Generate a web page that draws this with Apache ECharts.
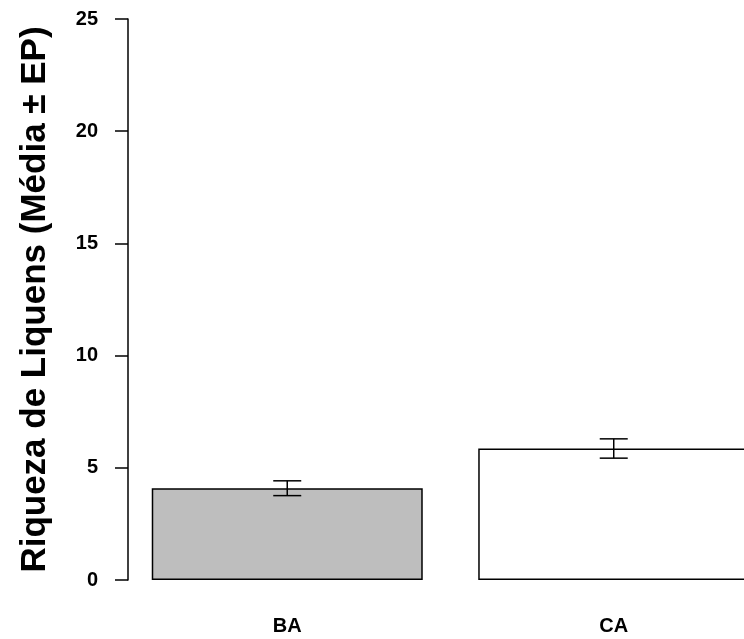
<!DOCTYPE html>
<html>
<head>
<meta charset="utf-8">
<script src="https://cdn.jsdelivr.net/npm/echarts@6/dist/echarts.min.js"></script>
<style>html,body{margin:0;padding:0;background:#fff;}#c{width:744px;height:639px;}</style>
</head>
<body>
<div id="c"></div>
<script>
const categories = ['BA', 'CA'];
const means = [4.09, 5.86];
const stdErrors = [0.33, 0.43];
const barColors = ['#bebebe', '#ffffff'];
const yTicks = [0, 5, 10, 15, 20, 25];
const yTitle = 'Riqueza de Liquens (Média ± EP)';

const font = '"Liberation Sans", Arial, sans-serif';
const chart = echarts.init(document.getElementById('c'), null, {renderer: 'canvas'});
const catPos = categories.map((c, i) => i);
const errData = categories.map((c, i) => [i, means[i], stdErrors[i]]);

chart.setOption({
  animation: false,
  backgroundColor: '#ffffff',
  grid: {left: 124, top: 19, right: 0, height: 561, containLabel: false},
  xAxis: {
    type: 'value',
    min: -0.5,
    max: 1.399,
    axisLine: {show: false, onZero: false},
    axisTick: {show: false},
    splitLine: {show: false},
    axisLabel: {
      customValues: catPos,
      formatter: function (v) { return categories[Math.round(v)] || ''; },
      color: '#000', fontFamily: font, fontWeight: 'bold', fontSize: 20, margin: 36
    }
  },
  yAxis: {
    type: 'value',
    min: yTicks[0],
    max: yTicks[yTicks.length - 1],
    interval: 5,
    offset: -4,
    name: yTitle,
    nameLocation: 'middle',
    nameRotate: 90,
    nameGap: 75,
    nameTextStyle: {color: '#000', fontFamily: font, fontWeight: 'bold', fontSize: 35},
    axisLine: {show: true, onZero: false, lineStyle: {color: '#000', width: 1.5}},
    axisTick: {show: true, inside: false, length: 13, lineStyle: {color: '#000', width: 1.5}},
    axisLabel: {color: '#000', fontFamily: font, fontWeight: 'bold', fontSize: 20, margin: 30},
    splitLine: {show: false}
  },
  series: [
    {
      type: 'bar',
      data: means.map((v, i) => ({value: [catPos[i], v], itemStyle: {color: barColors[i]}})),
      barWidth: 271,
      itemStyle: {borderColor: '#000', borderWidth: 1.5},
      z: 2
    },
    {
      type: 'custom',
      data: errData,
      z: 5,
      renderItem: function (params, api) {
        const x = api.value(0);
        const m = api.value(1);
        const s = api.value(2);
        const hi = api.coord([x, m + s]);
        const lo = api.coord([x, m - s]);
        const hw = 14;
        const style = {stroke: '#000', lineWidth: 1.5};
        return {
          type: 'group',
          children: [
            {type: 'line', shape: {x1: hi[0], y1: hi[1], x2: lo[0], y2: lo[1]}, style: style},
            {type: 'line', shape: {x1: hi[0] - hw, y1: hi[1], x2: hi[0] + hw, y2: hi[1]}, style: style},
            {type: 'line', shape: {x1: lo[0] - hw, y1: lo[1], x2: lo[0] + hw, y2: lo[1]}, style: style}
          ]
        };
      }
    }
  ]
});
</script>
</body>
</html>
